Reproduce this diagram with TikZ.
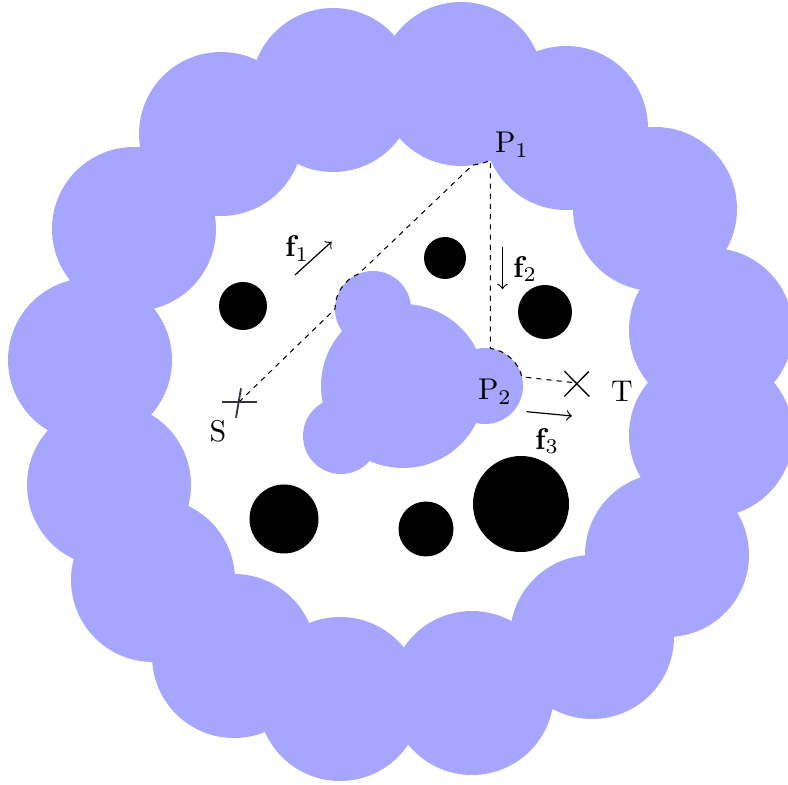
\documentclass[tikz,border=0pt]{standalone}
\definecolor{crossc}{RGB}{50,50,70}
\begin{document}
\begin{tikzpicture}[x=0.3333pt,y=0.3333pt,
  obst/.style={fill=blue!35},
  rock/.style={fill=black},
  route/.style={dash pattern=on 1.7pt off 1.7pt, line width=0.35pt},
  force/.style={->, line width=0.4pt},
  lbl/.style={inner sep=0pt}]
\useasboundingbox (0,0) rectangle (788,-785);
\clip (0,0) rectangle (788,-785);
% outer ring of obstacles
\foreach \cx/\cy in {333/90, 461/84, 566/128, 655/209, 711/330, 711/435,
  667/555, 592/637, 472/693, 340/699, 234/656, 153/580, 109/485, 90/360,
  134/229, 221/134}
  \fill[obst] (\cx,-\cy) circle[radius=82];
% central obstacle
\fill[obst] (403,-386) circle[radius=82];
\fill[obst] (485,-386) circle[radius=38];
\fill[obst] (373,-309) circle[radius=38];
\fill[obst] (341,-436) circle[radius=38];
% black obstacles
\fill[rock] (243,-306) circle[radius=24];
\fill[rock] (445,-258) circle[radius=21];
\fill[rock] (545,-312) circle[radius=27];
\fill[rock] (284,-519) circle[radius=34.5];
\fill[rock] (426,-529) circle[radius=27.5];
\fill[rock] (521,-504) circle[radius=48];
% key points
\coordinate (S) at (239,-402);
\coordinate (T) at (577,-383);
\coordinate (P1) at (490.4,-160.6);
% route
\draw[route] (S) -- (335,-309) arc[start angle=180, end angle=112, radius=38]
  -- (472.4,-165.2) arc[start angle=-82, end angle=-69, radius=82]
  -- (490.4,-348.4) arc[start angle=82, end angle=14, radius=38]
  -- (T);
% start and target markers
\draw[crossc, line width=0.6pt] (221.7,-402.3) -- (256.7,-402.3);
\draw[crossc, line width=0.6pt] (241,-388.3) -- (236,-417.7);
\draw[line width=0.45pt] (564.3,-371) -- (589.3,-396.5);
\draw[line width=0.45pt] (564.3,-396.5) -- (588.8,-371.5);
% forces
\coordinate (f1a) at (295,-275);
\coordinate (f1b) at (331.7,-241.7);
\coordinate (f2a) at (502.5,-246.7);
\coordinate (f2b) at (502.5,-289.3);
\coordinate (f3a) at (526.7,-411.7);
\coordinate (f3b) at (572,-416);
\draw[force] (f1a) -- (f1b);
\draw[force] (f2a) -- (f2b);
\draw[force] (f3a) -- (f3b);
% labels
\node[lbl] (lp1) at (512,-145) {P$_1$};
\node[lbl] (lp2) at (495,-392) {P$_2$};
\node[lbl] (ls) at (218,-431) {S};
\node[lbl] (lt) at (622,-391) {T};
\node[lbl] (lf1) at (297,-248.5) {$\mathbf{f}_1$};
\node[lbl] (lf2) at (525,-269) {$\mathbf{f}_2$};
\node[lbl] (lf3) at (547,-441) {$\mathbf{f}_3$};
\end{tikzpicture}
\end{document}
